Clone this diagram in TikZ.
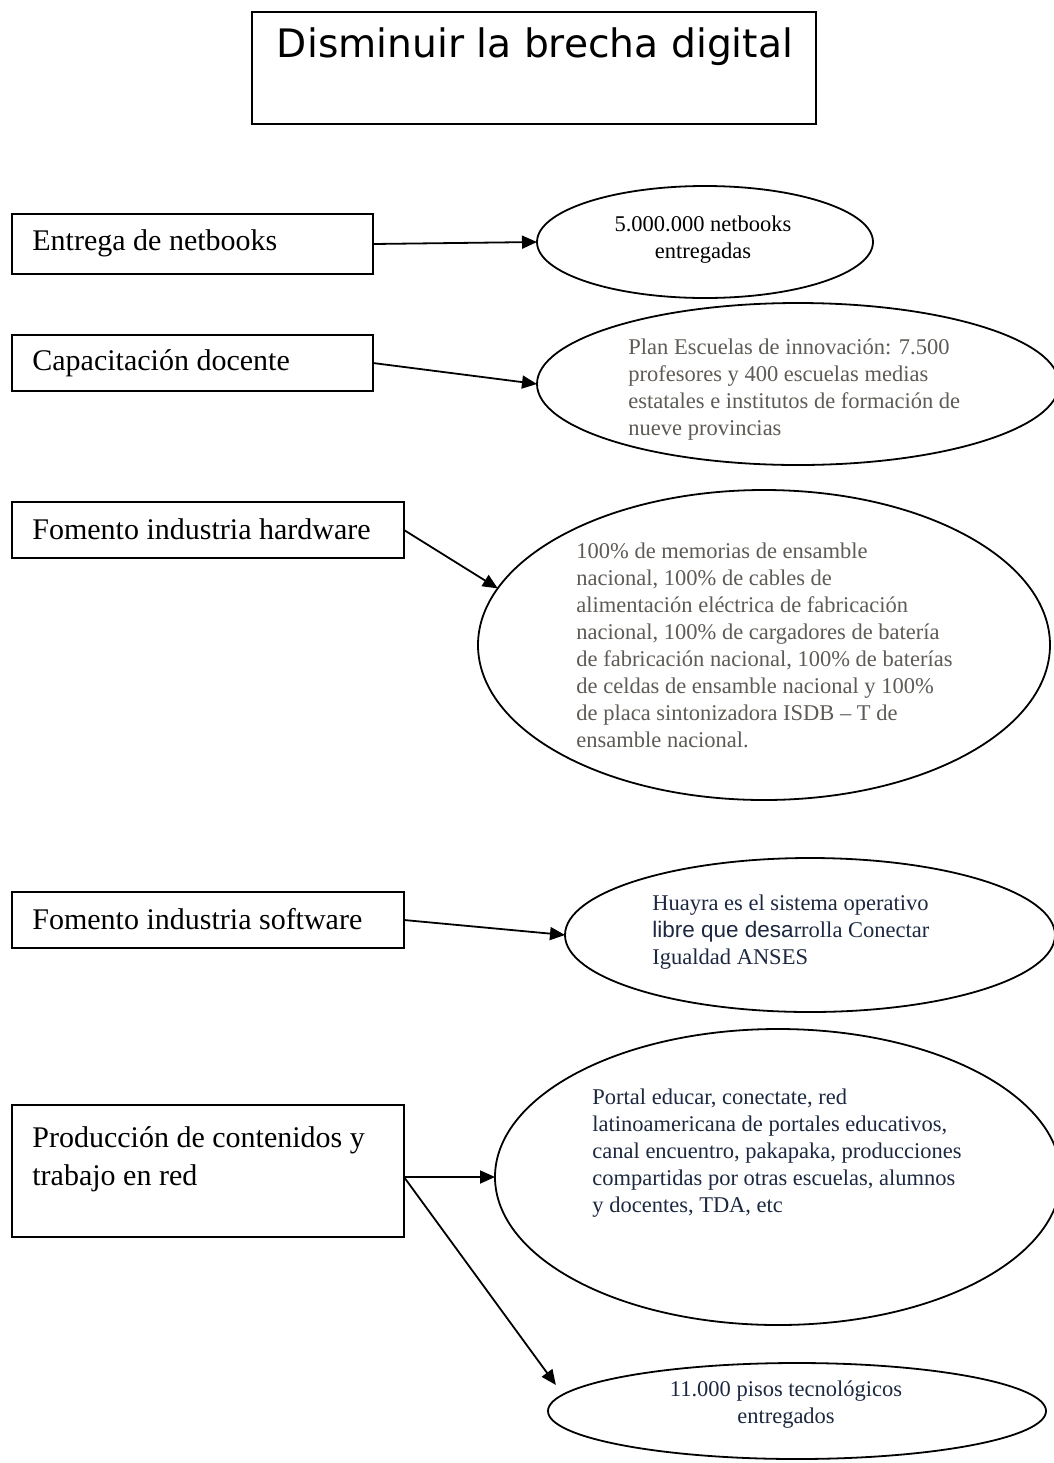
\documentclass[tikz,border=0pt]{standalone}
\usepackage{fontspec}
\setmainfont{Liberation Serif}
\newfontfamily\titlefont{DejaVu Sans}
\newfontfamily\arialfont{Liberation Sans}
\usetikzlibrary{shapes.geometric,arrows.meta}
\definecolor{txtgray}{HTML}{5E5A55}
\definecolor{txtnavy}{HTML}{1C2840}
\tikzset{
 boxnode/.style={draw, line width=0.9pt, rectangle, inner sep=0pt, outer sep=0pt},
 boxtext/.style={inner sep=0pt, align=left, font=\fontsize{15}{19}\selectfont, anchor=west},
 ellnode/.style={draw, line width=0.9pt, ellipse, inner sep=0pt, outer sep=0pt},
 elltext/.style={inner sep=0pt, font=\fontsize{11.25}{13.5}\selectfont},
 arr/.style={line width=0.9pt, -{Triangle[length=7.5pt,width=6.5pt]}},
}
\begin{document}
\begin{tikzpicture}[x=0.5pt,y=-0.5pt]
\useasboundingbox (0,0) rectangle (1054,1463);
% title
\node[boxnode, minimum width=282pt, minimum height=56pt] (title) at (534,68) {};
\node[inner sep=0pt, font=\titlefont\fontsize{19.6}{22}\selectfont] (titletext) at (535,47) {Disminuir la brecha digital};
% boxes
\node[boxnode, minimum width=180.5pt, minimum height=30pt] (b1) at (192.5,244) {};
\node[boxtext] (bt1) at (32,243) {Entrega de netbooks};
\node[boxnode, minimum width=180.5pt, minimum height=28pt] (b2) at (192.5,363) {};
\node[boxtext] (bt2) at (32,363) {Capacitación docente};
\node[boxnode, minimum width=196pt, minimum height=28pt] (b3) at (208,530) {};
\node[boxtext] (bt3) at (32,529) {Fomento industria hardware};
\node[boxnode, minimum width=196pt, minimum height=28pt] (b4) at (208,920) {};
\node[boxtext] (bt4) at (32,919) {Fomento industria software};
\node[boxnode, minimum width=196pt, minimum height=66pt] (b5) at (208,1171) {};
\node[boxtext] (bt5) at (32,1159) {Producción de contenidos y\\trabajo en red};
% ellipses
\node[ellnode, minimum width=168pt, minimum height=56pt] (e1) at (705,242) {};
\node[elltext, align=center] (et1) at (703,240) {5.000.000 netbooks\\entregadas};
\node[ellnode, minimum width=261pt, minimum height=81pt] (e2) at (798,384) {};
\node[elltext, align=left, anchor=west, text=txtgray] (et2) at (628,390) {Plan Escuelas de innovación: 7.500\\profesores y 400 escuelas medias\\estatales e institutos de formación de\\nueve provincias};
\node[ellnode, minimum width=286pt, minimum height=155pt] (e3) at (764,645) {};
\node[elltext, align=left, anchor=west, text=txtgray] (et3) at (576,645.5) {100\% de memorias de ensamble\\nacional, 100\% de cables de\\alimentación eléctrica de fabricación\\nacional, 100\% de cargadores de batería\\de fabricación nacional, 100\% de baterías\\de celdas de ensamble nacional y 100\%\\de placa sintonizadora ISDB – T de\\ensamble nacional.};
\node[ellnode, minimum width=245pt, minimum height=77pt] (e4) at (810,935) {};
\node[elltext, align=left, anchor=west, text=txtnavy] (et4) at (652,932) {Huayra es el sistema operativo\\{\arialfont libre que desa}rrolla Conectar\\Igualdad ANSES};
\node[ellnode, minimum width=283pt, minimum height=148pt] (e5) at (778,1177) {};
\node[elltext, align=left, anchor=west, text=txtnavy] (et5) at (592,1153) {Portal educar, conectate, red\\latinoamericana de portales educativos,\\canal encuentro, pakapaka, producciones\\compartidas por otras escuelas, alumnos\\y docentes, TDA, etc};
\node[ellnode, minimum width=249pt, minimum height=48pt] (e6) at (797,1411) {};
\node[elltext, align=center, text=txtnavy] (et6) at (786,1405) {11.000 pisos tecnológicos\\entregados};
% connectors
\draw[arr] (b1.east) -- (e1.west);
\draw[arr] (b2.east) -- (e2.west);
\draw[arr] (b3.east) -- (e3.168);
\draw[arr] (b4.east) -- (e4.west);
\draw[arr] ([yshift=-3pt]b5.east) -- (e5.west);
\draw[arr, shorten >=6pt] ([yshift=-3pt]b5.east) -- (e6.176);
\end{tikzpicture}
\end{document}
